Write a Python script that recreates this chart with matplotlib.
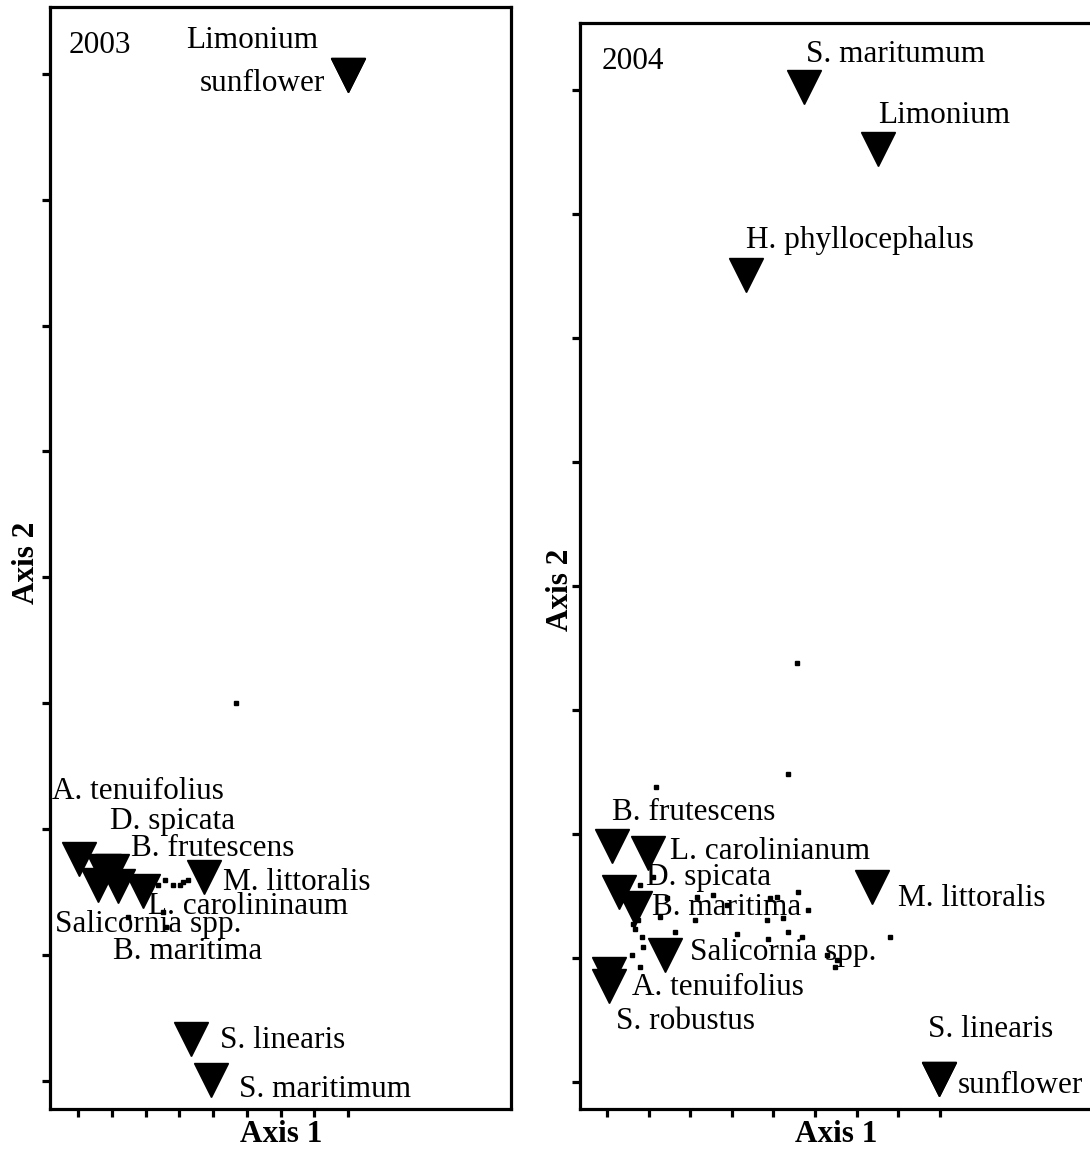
import matplotlib
matplotlib.use("Agg")
import matplotlib.pyplot as plt

plt.rcParams['font.family'] = ['Liberation Serif', 'DejaVu Serif']

# ---------------- data (axis units = tick index) ----------------
years = ["2003", "2004"]

sp03_names = ["Limonium", "sunflower", "A. tenuifolius", "D. spicata", "B. frutescens",
              "Salicornia spp.", "B. maritima", "L. carolininaum", "M. littoralis",
              "S. linearis", "S. maritimum"]
sp03_x = [8.00, 8.00, 0.03, 0.77, 1.01, 0.59, 1.19, 1.93, 3.73, 3.35, 3.95]
sp03_y = [7.99, 7.99, 1.76, 1.67, 1.67, 1.56, 1.55, 1.51, 1.62, 0.33, 0.01]

site03_x = [4.68, 2.37, 2.58, 2.81, 3.02, 3.11, 3.26, 2.52, 1.48, 2.61, 2.13]
site03_y = [3.00, 1.56, 1.60, 1.56, 1.56, 1.58, 1.60, 1.34, 1.30, 1.22, 1.61]

sp04_names = ["S. maritumum", "Limonium", "H. phyllocephalus", "B. frutescens",
              "L. carolinianum", "D. spicata", "B. maritima", "M. littoralis",
              "Salicornia spp.", "A. tenuifolius", "S. robustus", "S. linearis", "sunflower"]
sp04_x = [4.74, 6.51, 3.34, 0.12, 0.99, 0.29, 0.67, 6.37, 1.39, 0.05, 0.05, 7.98, 7.98]
sp04_y = [8.02, 7.52, 6.51, 1.90, 1.85, 1.53, 1.40, 1.57, 1.02, 0.87, 0.77, 0.02, 0.02]

site04_x = [4.57, 4.35, 1.18, 1.44, 2.16, 2.55, 2.88, 3.92, 4.09, 4.59, 4.83, 1.27, 2.12,
            3.85, 4.23, 1.63, 3.13, 3.87, 4.35, 4.69, 6.80, 0.60, 0.79, 0.87, 5.29, 5.53,
            5.48, 1.11, 0.67, 0.84, 0.63, 0.50, 0.79, 0.43, 0.75]
site04_y = [3.38, 2.48, 2.38, 1.48, 1.49, 1.51, 1.43, 1.48, 1.49, 1.53, 1.39, 1.33, 1.31,
            1.31, 1.32, 1.21, 1.19, 1.15, 1.21, 1.17, 1.17, 1.02, 0.93, 1.09, 1.02, 0.98,
            0.93, 1.65, 1.23, 1.17, 1.27, 1.61, 1.59, 1.47, 1.31]

tick_vals = list(range(9))

# ---------------- layout / styling ----------------
# label offsets in pixels (text left edge, vertical centre) from marker centre
off03 = [(-162, 34), (-148, -9), (-27, 68), (6, 49), (19, 22), (-43, -40),
         (-5, -66), (5, -16), (19, -5), (29, -1), (28, -10)]
off04 = [(2, 33), (0, 34), (0, 34), (0, 34), (22, 1), (27, 15), (17, 1),
         (26, -11), (25, 3), (23, -13), (7, -35), (-11, 50), (19, -6)]

W, H = 1090, 1151
fig = plt.figure(figsize=(W / 100, H / 100), dpi=100)


def px_axes(l, r, t, b):
    return fig.add_axes([l / W, 1 - b / H, (r - l) / W, (b - t) / H])


ax1 = px_axes(50, 511, 7, 1109)
ax2 = px_axes(580, 1125, 23, 1109)

FS = 22.5
LW = 2.3


def style(ax, xlim, ylim):
    ax.set_xlim(*xlim)
    ax.set_ylim(*ylim)
    ax.set_xticks(tick_vals)
    ax.set_yticks(tick_vals)
    ax.set_xticklabels([])
    ax.set_yticklabels([])
    ax.tick_params(direction='out', length=6, width=LW)
    for s in ax.spines.values():
        s.set_linewidth(LW)
        s.set_color('black')


style(ax1, (-0.83, 12.83), (-0.222, 8.53))
style(ax2, (-0.65, 12.45), (-0.218, 8.54))


def draw(ax, names, xs, ys, offs, sx, sy, year):
    ax.plot(sx, sy, linestyle='none', marker='s', ms=3.4, color='black', zorder=3)
    ax.plot(xs, ys, linestyle='none', marker='v', ms=24.5, color='black', zorder=2)
    for n, x, y, (dx, dy) in zip(names, xs, ys, offs):
        ax.annotate(n, (x, y), xytext=(dx, dy), textcoords='offset pixels',
                    ha='left', va='center', fontsize=FS, zorder=4)
    ax.text(0.04, 0.965, year, transform=ax.transAxes, ha='left', va='center',
            fontsize=FS)


draw(ax1, sp03_names, sp03_x, sp03_y, off03, site03_x, site03_y, years[0])
draw(ax2, sp04_names, sp04_x, sp04_y, off04, site04_x, site04_y, years[1])

fig.text(281 / W, 1 - 1135 / H, "Axis 1", ha='center', va='center',
         fontsize=FS, fontweight='bold')
fig.text(836 / W, 1 - 1135 / H, "Axis 1", ha='center', va='center',
         fontsize=FS, fontweight='bold')
fig.text(27 / W, 1 - 563 / H, "Axis 2", ha='center', va='center',
         fontsize=FS, fontweight='bold', rotation=90)
fig.text(560 / W, 1 - 590 / H, "Axis 2", ha='center', va='center',
         fontsize=FS, fontweight='bold', rotation=90)

fig.savefig("out.png", dpi=100)
